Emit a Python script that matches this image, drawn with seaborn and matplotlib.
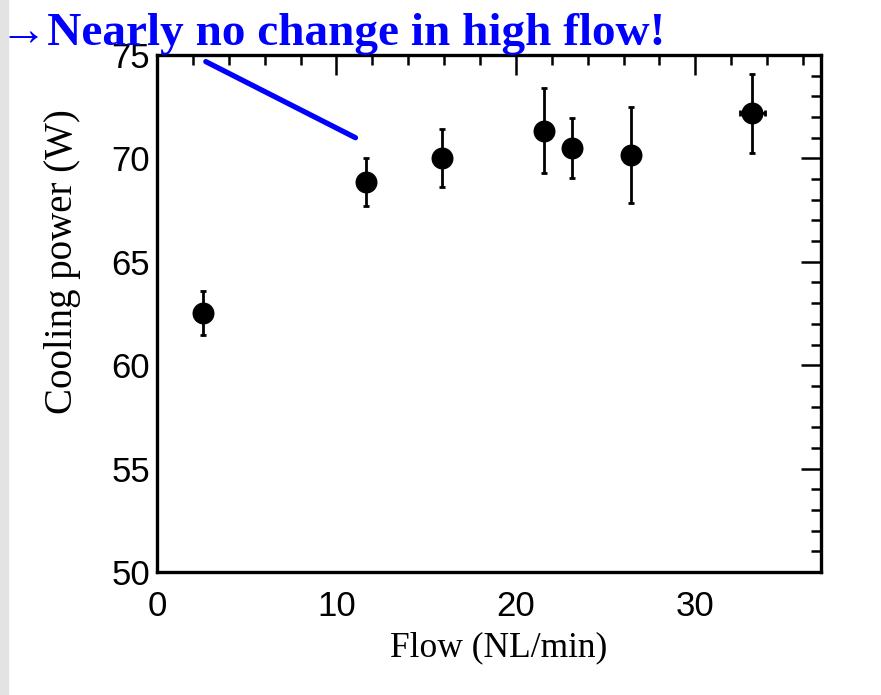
import matplotlib
matplotlib.use("Agg")
import matplotlib.pyplot as plt
from matplotlib.patches import Rectangle
from matplotlib.ticker import MultipleLocator
import seaborn as sns
import pandas as pd

flow = [2.57, 11.67, 15.89, 21.56, 23.15, 26.43, 33.18]
power = [62.52, 68.86, 70.02, 71.34, 70.49, 70.16, 72.18]
power_err = [1.06, 1.18, 1.42, 2.05, 1.46, 2.33, 1.90]
flow_err = [0, 0, 0, 0, 0, 0, 0.68]

# blue pointer line
line_x = [2.72, 11.06]
line_y = [74.68, 71.0]

title_txt = '\u2192Nearly no change in high flow!'

df = pd.DataFrame({'flow': flow, 'power': power})

sns.set_style('white', rc={'text.color': 'black', 'axes.labelcolor': 'black',
                           'xtick.color': 'black', 'ytick.color': 'black'})
plt.rcParams['font.family'] = ['Liberation Sans', 'DejaVu Sans']

fig = plt.figure(figsize=(8.81, 6.95), dpi=100)
fig.patch.set_facecolor('white')
# grey strip at the left edge
fig.patches.append(Rectangle((0, 0), 8 / 881, 1, transform=fig.transFigure,
                             color='#e3e3e3', zorder=0))

ax = fig.add_axes([157 / 881, 1 - 572 / 695, 664 / 881, 517 / 695])

ax.errorbar(flow, power, yerr=power_err, xerr=flow_err, fmt='none',
            ecolor='black', elinewidth=2.0, capsize=2.2, capthick=2.0, zorder=2)
sns.scatterplot(data=df, x='flow', y='power', ax=ax, color='black', s=250,
                edgecolor='black', linewidth=0, zorder=3)
sns.lineplot(x=line_x, y=line_y, ax=ax, color='#0000ff', linewidth=3.8,
             zorder=4)

ax.set_xlim(0, 37)
ax.set_ylim(50, 75)
ax.xaxis.set_major_locator(MultipleLocator(10))
ax.xaxis.set_minor_locator(MultipleLocator(2))
ax.yaxis.set_major_locator(MultipleLocator(5))
ax.yaxis.set_minor_locator(MultipleLocator(1))

for s in ax.spines.values():
    s.set_visible(True)
    s.set_color('black')
    s.set_linewidth(2.4)

ax.tick_params(which='both', direction='in', top=True, right=True,
               color='black', width=1.8, labelcolor='black')
ax.tick_params(which='major', length=14.5, labelsize=25)
ax.tick_params(which='minor', length=7.5)
ax.tick_params(axis='x', which='major', pad=13)
ax.tick_params(axis='y', which='major', pad=5)

serif = ['Liberation Serif', 'DejaVu Serif']
ax.set_xlabel('Flow (NL/min)', family=serif, fontsize=25.5, color='black')
ax.set_ylabel('Cooling power (W)', family=serif, fontsize=28, color='black')
ax.xaxis.set_label_coords(0.514, -0.115)
ax.yaxis.set_label_coords(-0.114, 0.60)

fig.text(0.0, 1 - 45 / 695, title_txt, family=serif, fontsize=34,
         fontweight='bold', color='#0000ff', ha='left', va='baseline',
         zorder=5)

fig.savefig('out.png', dpi=100)
